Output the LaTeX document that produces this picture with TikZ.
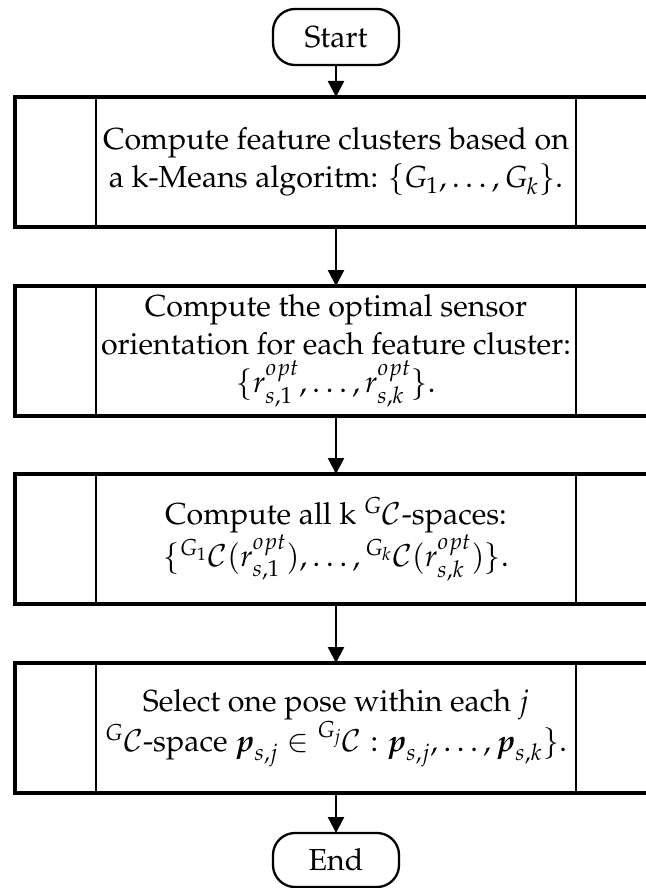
\documentclass[tikz,border=0pt]{standalone}
\usepackage[T1]{fontenc}
\usepackage{mathpazo}
\usepackage{amsmath}
\usetikzlibrary{arrows.meta}
\begin{document}
\begin{tikzpicture}[x=0.5pt,y=-0.5pt,
  txt/.style={font=\fontsize{15.2}{19}\selectfont},
  term/.style={draw,line width=1.15pt,rounded corners=11pt,minimum width=63pt,minimum height=28pt,inner sep=0pt,outer sep=0pt,txt},
  proc/.style={draw,line width=1.75pt,minimum width=321pt,minimum height=65pt,inner sep=0pt,outer sep=0pt,align=center,txt},
  flow/.style={line width=1.15pt,-{Triangle[length=8pt,width=8pt]}},
  subline/.style={line width=1.05pt}]
\useasboundingbox (0,0) rectangle (646,888);
\node[term] (start) at (336,37) {Start};
\node[proc] (b1) at (336,162) {Compute feature clusters based on\\
  a k-Means algoritm: $\{G_1,\dots,G_k\}$.};
\node[proc] (b2) at (336,351) {Compute the optimal sensor\\
  orientation for each feature cluster:\\
  $\{r^{opt}_{s,1},\dots,r^{opt}_{s,k}\}$.};
\node[proc] (b3) at (336,539) {Compute all k ${}^{G}\mathcal{C}$-spaces:\\
  $\{{}^{G_1}\mathcal{C}(r^{opt}_{s,1}),\dots,{}^{G_k}\mathcal{C}(r^{opt}_{s,k})\}$.};
\node[proc] (b4) at (336,728) {Select one pose within each $j$\\
  ${}^{G}\mathcal{C}$-space $\boldsymbol{p}_{s,j}\in{}^{G_j}\mathcal{C}:\boldsymbol{p}_{s,j},\dots,\boldsymbol{p}_{s,k}\}$.};
\node[term,minimum height=27pt] (end) at (336,860) {End};
\foreach \n in {b1,b2,b3,b4}{
  \draw[subline] ([xshift=40.5pt]\n.north west) -- ([xshift=40.5pt]\n.south west);
  \draw[subline] ([xshift=-40.5pt]\n.north east) -- ([xshift=-40.5pt]\n.south east);
}
\draw[flow] (start) -- (b1);
\draw[flow] (b1) -- (b2);
\draw[flow] (b2) -- (b3);
\draw[flow] (b3) -- (b4);
\draw[flow] (b4) -- (end);
\end{tikzpicture}
\end{document}
